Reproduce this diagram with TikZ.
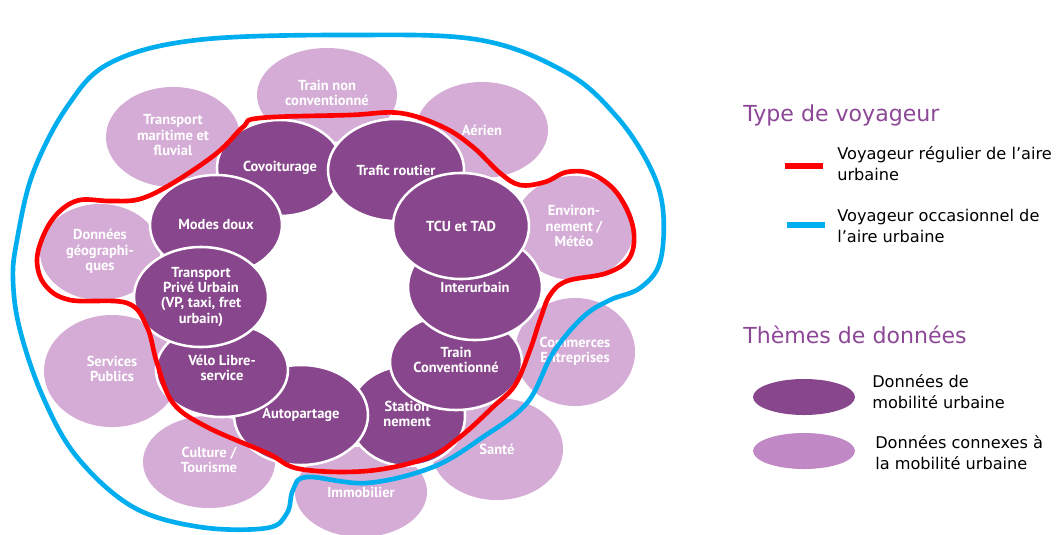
\documentclass[tikz,border=0pt]{standalone}
\usepackage{fontspec}
\setmainfont{DejaVu Sans}
\newfontfamily\bubfont{PT Sans}
\usetikzlibrary{shapes.geometric}
\definecolor{mobdark}{RGB}{136,70,140}
\definecolor{moblight}{RGB}{212,172,214}
\definecolor{leglight}{RGB}{192,136,196}
\definecolor{titlepurple}{RGB}{140,72,150}
\definecolor{regred}{RGB}{255,0,0}
\definecolor{occblue}{RGB}{0,174,239}

\begin{document}
\begin{tikzpicture}[x=0.025cm,y=-0.025cm,
  bub/.style 2 args={shape=ellipse,inner sep=0pt,minimum width=#1*0.05cm,minimum height=#2*0.05cm,
    text=white,font=\bubfont\bfseries\fontsize{10.3}{10.9}\selectfont},
  connexe/.style={fill=moblight},
  mobil/.style={fill=mobdark,draw=white,line width=1.8pt},
  legtitle/.style={anchor=west,inner sep=0pt,text=titlepurple,font=\fontsize{15.7}{18}\selectfont},
  legtext/.style={anchor=west,inner sep=0pt,font=\fontsize{11.5}{15}\selectfont},
  regline/.style={draw=regred,line width=3.3pt,line join=round},
  occline/.style={draw=occblue,line width=3.3pt,line join=round}]

  \useasboundingbox (0,0) rectangle (1057,534);

  \draw (327,95) node [bub={70}{47},connexe] (trainnc)
  {\begin{tabular}{@{}c@{}}Train non\\conventionné\end{tabular}};

  \draw (173,137) node [bub={67}{50},connexe] (maritime)
  {\begin{tabular}{@{}c@{}}Transport\\maritime et\\fluvial\end{tabular}};

  \draw (482,130) node [bub={66}{48},connexe] (aerien) {Aérien};

  \draw (574,228) node [bub={60}{52},connexe] (environ)
  {\begin{tabular}{@{}c@{}}Environ-\\nement /\\Météo\end{tabular}};

  \draw (575,352) node [bub={60}{54},connexe] (commerces)
  {\begin{tabular}{@{}c@{}}Commerces\\Entreprises\end{tabular}};

  \draw (497,449) node [bub={66}{51},connexe] (sante) {Santé};

  \draw (361,492) node [bub={66}{45},connexe] (immo) {Immobilier};

  \draw (209,462) node [bub={66}{46},connexe] (culture)
  {\begin{tabular}{@{}c@{}}Culture /\\Tourisme\end{tabular}};

  \draw (112,371) node [bub={68}{56},connexe] (services)
  {\begin{tabular}{@{}c@{}}Services\\Publics\end{tabular}};

  \draw (100,252) node [bub={60}{48},connexe] (geo)
  {\begin{tabular}{@{}c@{}}Données\\géographi-\\ques\end{tabular}};

  \draw (407,416) node [bub={58}{50},mobil] (station)
  {\begin{tabular}{@{}c@{}}Station\\nement\end{tabular}};

  \draw (456,362) node [bub={66}{48},mobil] (trainconv)
  {\begin{tabular}{@{}c@{}}Train\\Conventionné\end{tabular}};

  \draw (475,287) node [bub={67}{53},mobil] (interurb) {Interurbain};

  \draw (280,168) node [bub={63}{48},mobil] (covoit) {Covoiturage};

  \draw (396,170) node [bub={68}{51},mobil] (trafic) {Trafic routier};

  \draw (461,226) node [bub={68}{53},mobil] (tcu) {TCU et TAD};

  \draw (216,225) node [bub={66}{50},mobil] (modes) {Modes doux};

  \draw (301,415) node [bub={67}{50},mobil] (autopart) {Autopartage};

  \draw (222,370) node [bub={66}{47},mobil] (velo)
  {\begin{tabular}{@{}c@{}}Vélo Libre-\\service\end{tabular}};

  \draw (201,297) node [bub={67}{50},mobil] (tprive)
  {\begin{tabular}{@{}c@{}}Transport\\Privé Urbain\\(VP, taxi, fret\\urbain)\end{tabular}};

  \draw[occline] plot [smooth cycle,tension=0.6] coordinates {
    (350,35) (480,40) (567,73) (617,117) (650,167) (663,210) (660,262) (640,288)
    (610,300) (583,317) (553,353) (527,403) (483,437) (433,467) (367,483) (307,477)
    (293,490) (287,513) (267,528) (200,527) (133,507) (77,457) (43,397) (20,330)
    (13,280) (17,240) (33,173) (67,107) (110,63) (197,40)};

  \draw[regline] plot [smooth cycle,tension=0.6] coordinates {
    (260,118) (350,115) (400,113) (443,127) (473,147) (500,173) (520,185) (545,182)
    (567,172) (592,174) (617,193) (633,227) (630,257) (607,273) (567,281) (550,295)
    (540,320) (530,350) (515,385) (493,407) (460,437) (427,458) (367,471) (300,469)
    (267,453) (207,427) (173,403) (157,363) (147,327) (127,303) (70,300) (45,285)
    (37,260) (45,232) (60,211) (80,200) (110,201) (140,199) (173,183) (217,153)
    (243,127)};

  \draw (743,115) node [legtitle] (typevoy) {Type de voyageur};

  \coordinate (regA) at (785,166);
  \coordinate (regB) at (823,166);
  \draw[draw=regred,line width=4.2pt] (regA) -- (regB);
  \draw (837,166) node [legtext] (regtxt)
  {\begin{tabular}{@{}l@{}}Voyageur régulier de l’aire\\urbaine\end{tabular}};

  \coordinate (occA) at (787,225);
  \coordinate (occB) at (825,225);
  \draw[draw=occblue,line width=4.2pt] (occA) -- (occB);
  \draw (837,228) node [legtext] (occtxt)
  {\begin{tabular}{@{}l@{}}Voyageur occasionnel de\\l’aire urbaine\end{tabular}};

  \draw (743,335) node [legtitle] (themes) {Thèmes de données};

  \draw (804,397) node [bub={51}{18},fill=mobdark] (legmob) {};
  \draw (872,394) node [legtext] (mobtxt)
  {\begin{tabular}{@{}l@{}}Données de\\mobilité urbaine\end{tabular}};

  \draw (804,451) node [bub={51}{18},fill=leglight] (legcon) {};
  \draw (875,455) node [legtext] (contxt)
  {\begin{tabular}{@{}l@{}}Données connexes à\\la mobilité urbaine\end{tabular}};

\end{tikzpicture}
\end{document}
